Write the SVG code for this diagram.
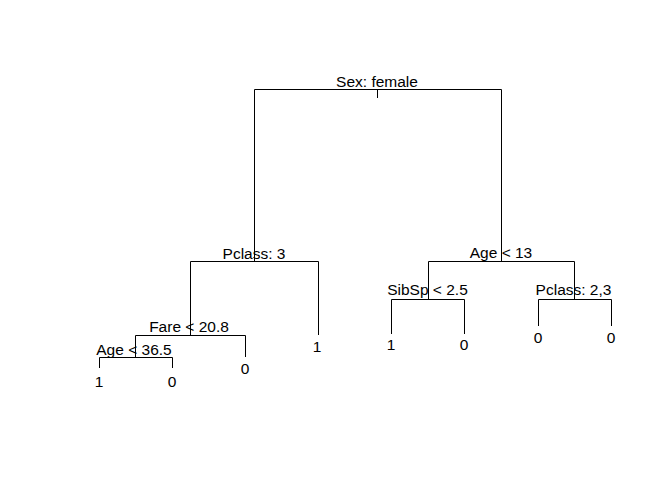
<svg xmlns="http://www.w3.org/2000/svg" width="672" height="480" viewBox="0 0 672 480">
<style>
.e{fill:none;stroke:#000;stroke-width:1}
text{font-family:"Liberation Sans",Arial,sans-serif;font-size:15.5px;fill:#000;text-anchor:middle}
</style>
<rect width="672" height="480" fill="#fff"/>
<g id="connectors">
<path class="e" d="M377.5 89.5V98M254.5 89.5H501.5M254.5 89.5V262M501.5 89.5V261.5"/>
<path class="e" d="M190.5 261.5H318.5M190.5 261.5V335.5M318.5 261.5V335"/>
<path class="e" d="M135.5 335.5H245.5M135.5 335.5V357.5M245.5 335.5V357"/>
<path class="e" d="M99.5 357.5H172.5M99.5 357.5V368M172.5 357.5V368"/>
<path class="e" d="M428.5 261.5H574.5M428.5 261.5V299.5M574.5 261.5V299.5"/>
<path class="e" d="M391.5 299.5H464.5M391.5 299.5V334M464.5 299.5V334"/>
<path class="e" d="M538.5 299.5H611.5M538.5 299.5V326M611.5 299.5V326"/>
</g>
<g id="n_root"><text x="377" y="87">Sex: female</text></g>
<g id="n_pclass3"><text x="254" y="259">Pclass: 3</text></g>
<g id="n_fare"><text x="189" y="332">Fare &lt; 20.8</text></g>
<g id="n_age365"><text x="134" y="355">Age &lt; 36.5</text></g>
<g id="l1"><text x="99" y="387">1</text></g>
<g id="l2"><text x="172" y="387">0</text></g>
<g id="l3"><text x="245" y="374">0</text></g>
<g id="l4"><text x="317" y="352">1</text></g>
<g id="n_age13"><text x="501" y="258">Age &lt; 13</text></g>
<g id="n_sibsp"><text x="427.5" y="295">SibSp &lt; 2.5</text></g>
<g id="n_pclass23"><text x="573.5" y="295">Pclass: 2,3</text></g>
<g id="l5"><text x="391" y="350">1</text></g>
<g id="l6"><text x="464" y="350">0</text></g>
<g id="l7"><text x="538" y="343">0</text></g>
<g id="l8"><text x="611" y="343">0</text></g>
</svg>
